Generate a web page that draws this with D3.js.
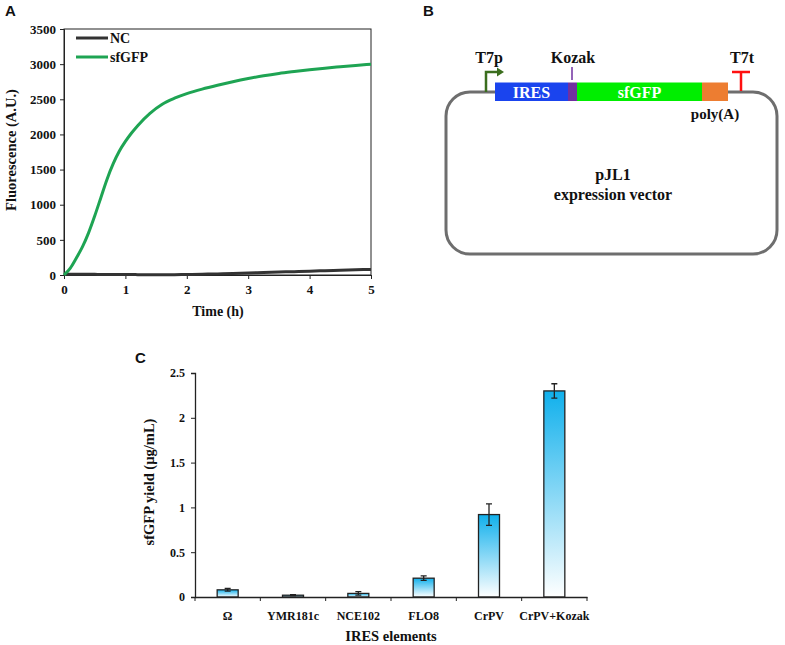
<!DOCTYPE html>
<html><head><meta charset="utf-8">
<script src="https://cdn.jsdelivr.net/npm/d3@7/dist/d3.min.js"></script>
<style>
body{margin:0;background:#fff;}
svg{display:block;}
text{font-family:"Liberation Serif","Times New Roman",serif;font-weight:bold;fill:#111;}
.lab{font-family:"Liberation Sans",Arial,sans-serif;font-weight:bold;font-size:15px;}
</style></head>
<body>
<svg id="c" width="785" height="645"></svg>
<script>
// ---------- Panel A data ----------
const timeH = [0,0.1,0.2,0.3,0.4,0.5,0.6,0.7,0.8,0.9,1.0,1.1,1.2,1.4,1.6,1.8,2.0,2.25,2.5,2.75,3.0,3.25,3.5,3.75,4.0,4.25,4.5,4.75,5.0];
const sfGFP = [0,95,240,400,600,840,1100,1360,1580,1760,1900,2020,2125,2300,2430,2515,2580,2645,2700,2750,2795,2835,2868,2895,2920,2943,2963,2982,3000];
const NC    = [12,11,10,10,9,9,8,8,7,7,6,6,5,4,4,5,7,11,16,22,30,36,42,48,55,62,68,74,80];
const seriesNames = ["NC","sfGFP"];
const yTicksA = [0,500,1000,1500,2000,2500,3000,3500];
const xTicksA = [0,1,2,3,4,5];

// ---------- Panel C data ----------
const iresElements = ["\u03A9","YMR181c","NCE102","FLO8","CrPV","CrPV+Kozak"];
const yieldVals = [0.08,0.02,0.04,0.21,0.92,2.30];
const yieldErr  = [0.015,0.005,0.02,0.025,0.12,0.08];
const yTicksC = [0,0.5,1,1.5,2,2.5];

const svg = d3.select("#c");

// ================= Panel A =================
const A = {l:64,r:371,t:29,b:275};
const xA = d3.scaleLinear().domain([0,5]).range([A.l,A.r]);
const yA = d3.scaleLinear().domain([0,3500]).range([A.b,A.t]);
svg.append("text").attr("class","lab").attr("x",5).attr("y",16).text("A");
svg.append("rect").attr("x",A.l).attr("y",A.t).attr("width",A.r-A.l).attr("height",A.b-A.t)
  .attr("fill","none").attr("stroke","#222").attr("stroke-width",1);
const gxA = svg.append("g").attr("transform",`translate(0,${A.b})`)
  .call(d3.axisBottom(xA).tickValues(xTicksA).tickFormat(d3.format("d")).tickSize(4).tickPadding(6));
const gyA = svg.append("g").attr("transform",`translate(${A.l},0)`)
  .call(d3.axisLeft(yA).tickValues(yTicksA).tickFormat(d3.format("d")).tickSize(4).tickPadding(4));
[gxA,gyA].forEach(g=>{g.select(".domain").attr("stroke","#222");g.selectAll("line").attr("stroke","#222");
  g.selectAll("text").style("font-size","13px").style("font-family","Liberation Serif").style("font-weight","bold").attr("fill","#111");});
const lineA = d3.line().x((d,i)=>xA(timeH[i])).y(d=>yA(d)).curve(d3.curveMonotoneX);
svg.append("path").attr("d",lineA(NC)).attr("fill","none").attr("stroke","#333").attr("stroke-width",3);
svg.append("path").attr("d",lineA(sfGFP)).attr("fill","none").attr("stroke","#1ea453").attr("stroke-width",3);
const legCol = ["#333","#1ea453"];
seriesNames.forEach((n,i)=>{
  const y = 38 + i*19;
  svg.append("line").attr("x1",76).attr("x2",108).attr("y1",y).attr("y2",y).attr("stroke",legCol[i]).attr("stroke-width",3);
  svg.append("text").attr("x",110).attr("y",y+5).style("font-size","14px").text(n);
});
svg.append("text").attr("transform","translate(16,150) rotate(-90)").attr("text-anchor","middle").style("font-size","14.5px").text("Fluorescence (A.U.)");
svg.append("text").attr("x",218).attr("y",316).attr("text-anchor","middle").style("font-size","14px").text("Time (h)");

// ================= Panel B =================
svg.append("text").attr("class","lab").attr("x",423).attr("y",16).text("B");
svg.append("rect").attr("x",446).attr("y",92).attr("width",331).attr("height",162).attr("rx",24).attr("ry",24)
  .attr("fill","#fff").attr("stroke","#6e6e6e").attr("stroke-width",3);
const parts = [
  {x0:495,x1:568,c:"#1a44ee",t:"IRES"},
  {x0:568,x1:577,c:"#7030a0",t:""},
  {x0:577,x1:702,c:"#00ee00",t:"sfGFP"},
  {x0:702,x1:728,c:"#ed7d31",t:""}
];
parts.forEach(p=>{
  svg.append("rect").attr("x",p.x0).attr("y",82.5).attr("width",p.x1-p.x0).attr("height",18.5).attr("fill",p.c);
  if(p.t) svg.append("text").attr("x",(p.x0+p.x1)/2).attr("y",98).attr("text-anchor","middle")
    .style("font-size","16px").style("fill","#fff").text(p.t);
});
// promoter
svg.append("path").attr("d","M486,92 V72 H498").attr("fill","none").attr("stroke","#3b6e1e").attr("stroke-width",2.5);
svg.append("path").attr("d","M497,67.5 L504,72 L497,76.5 Z").attr("fill","#3b6e1e");
svg.append("text").attr("x",489).attr("y",63).attr("text-anchor","middle").style("font-size","16px").text("T7p");
// kozak
svg.append("line").attr("x1",572).attr("x2",572).attr("y1",67).attr("y2",80).attr("stroke","#7030a0").attr("stroke-width",1.5);
svg.append("text").attr("x",573).attr("y",63).attr("text-anchor","middle").style("font-size","16px").text("Kozak");
// terminator
svg.append("path").attr("d","M741,91 V72 M732,72 H750").attr("fill","none").attr("stroke","#ff1010").attr("stroke-width",2.5);
svg.append("text").attr("x",742).attr("y",63).attr("text-anchor","middle").style("font-size","16px").text("T7t");
svg.append("text").attr("x",715).attr("y",119).attr("text-anchor","middle").style("font-size","15px").text("poly(A)");
svg.append("text").attr("x",613).attr("y",180).attr("text-anchor","middle").style("font-size","16px").text("pJL1");
svg.append("text").attr("x",613).attr("y",200).attr("text-anchor","middle").style("font-size","16px").text("expression vector");

// ================= Panel C =================
const C = {l:195,r:587,t:373,b:597};
svg.append("text").attr("class","lab").attr("x",135).attr("y",363).text("C");
const xC = d3.scaleBand().domain(iresElements).range([C.l,C.r]);
const yC = d3.scaleLinear().domain([0,2.5]).range([C.b,C.t]);
const defs = svg.append("defs");
const grad = defs.append("linearGradient").attr("id","bg").attr("x1",0).attr("y1",0).attr("x2",0).attr("y2",1);
grad.append("stop").attr("offset","0%").attr("stop-color","#10b0ec");
grad.append("stop").attr("offset","100%").attr("stop-color","#ffffff");
const bw = 21;
iresElements.forEach((k,i)=>{
  const cx = xC(k)+xC.bandwidth()/2;
  svg.append("rect").attr("x",cx-bw/2).attr("y",yC(yieldVals[i])).attr("width",bw)
    .attr("height",C.b-yC(yieldVals[i])).attr("fill","url(#bg)").attr("stroke","#222").attr("stroke-width",1.3);
  const e1 = yC(yieldVals[i]+yieldErr[i]), e0 = yC(yieldVals[i]-yieldErr[i]);
  svg.append("path").attr("d",`M${cx},${e1} V${e0} M${cx-3},${e1} H${cx+3} M${cx-3},${e0} H${cx+3}`)
    .attr("stroke","#222").attr("stroke-width",1.3).attr("fill","none");
});
const gyC = svg.append("g").attr("transform",`translate(${C.l},0)`)
  .call(d3.axisLeft(yC).tickValues(yTicksC).tickFormat(d=>String(d)).tickSize(4).tickPadding(6));
const gxC = svg.append("g").attr("transform",`translate(0,${C.b})`)
  .call(d3.axisBottom(xC).tickSize(0).tickPadding(14));
gxC.selectAll(".bt").data(d3.range(iresElements.length+1)).enter().append("line")
  .attr("x1",i=>C.l+i*xC.bandwidth()).attr("x2",i=>C.l+i*xC.bandwidth()).attr("y1",0).attr("y2",4).attr("stroke","#222");
[gxC,gyC].forEach(g=>{g.select(".domain").attr("stroke","#222").attr("stroke-width",1.3);g.selectAll("line").attr("stroke","#222");
  g.selectAll("text").style("font-size","12px").style("font-family","Liberation Serif").style("font-weight","bold").attr("fill","#111");});
svg.append("text").attr("transform","translate(154,482) rotate(-90)").attr("text-anchor","middle").style("font-size","14.5px").text("sfGFP yield (\u00B5g/mL)");
svg.append("text").attr("x",391).attr("y",641).attr("text-anchor","middle").style("font-size","14.5px").text("IRES elements");
</script>
</body></html>
